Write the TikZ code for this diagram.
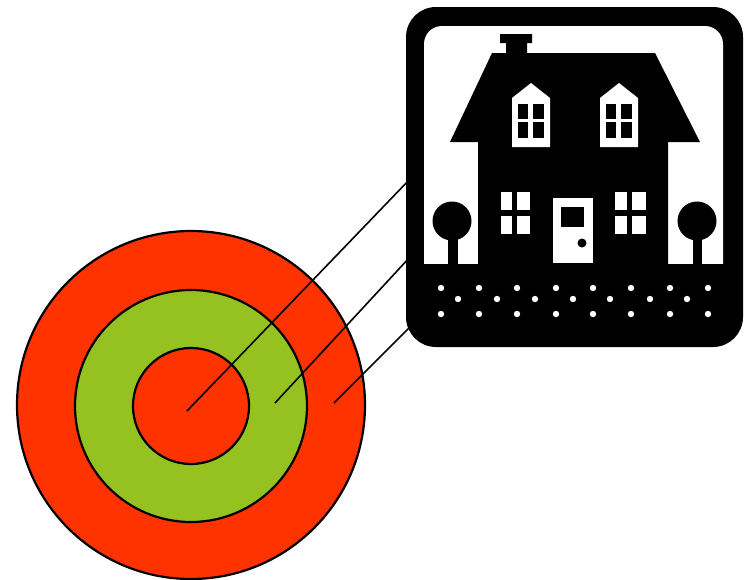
\documentclass[tikz,border=0pt]{standalone}
\definecolor{tred}{HTML}{FF3300}
\definecolor{tgreen}{HTML}{95C121}
\tikzset{
  ring/.style={circle,draw=black,line width=2.2pt,inner sep=0pt,minimum size=#1},
  link/.style={draw=black,line width=1.6pt},
  ink/.style={fill=black,draw=none},
  paper/.style={fill=white,draw=none}
}
\begin{document}
\begin{tikzpicture}[x=1pt,y=-1pt]
\useasboundingbox (0,0) rectangle (744,579);
% target
\node[ring=348pt,fill=tred] (outer) at (191,405) {};
\node[ring=232pt,fill=tgreen] (middle) at (191,406) {};
\node[ring=116pt,fill=tred] (inner) at (191,406) {};
% connector ends
\coordinate (c1) at (187,411);
\coordinate (c2) at (275,403);
\coordinate (c3) at (334,403);
\coordinate (h1) at (410,179);
\coordinate (h2) at (410,257);
\coordinate (h3) at (412,325);
\draw[link] (c1) -- (h1);
\draw[link] (c2) -- (h2);
\draw[link] (c3) -- (h3);
% sign
\fill[ink,rounded corners=30pt] (406,7) rectangle (743,347);
\fill[paper,rounded corners=18pt] (424,26) rectangle (723,290);
\fill[ink] (420,264) rectangle (727,300);
% house
\fill[ink] (500,34) -- (532,34) -- (532,43) -- (527,43) -- (527,53) -- (655,53) -- (700,142) -- (668,142) -- (668,266) -- (478,266) -- (478,142) -- (450,142) -- (492,53) -- (506,53) -- (506,43) -- (500,43) -- cycle;
% dormers
\foreach \x in {512,600}{
  \fill[paper] (\x,98) -- (\x+19,83) -- (\x+38,98) -- (\x+38,147) -- (\x,147) -- cycle;
  \fill[ink] (\x+6,104) rectangle (\x+16,119);
  \fill[ink] (\x+21,104) rectangle (\x+32,119);
  \fill[ink] (\x+6,122) rectangle (\x+16,138);
  \fill[ink] (\x+21,122) rectangle (\x+32,138);
}
% lower windows
\fill[paper] (501,192) rectangle (530,234);
\fill[ink] (512,192) rectangle (517,234);
\fill[ink] (501,210) rectangle (530,216);
\fill[paper] (615,192) rectangle (646,234);
\fill[ink] (627,192) rectangle (632,234);
\fill[ink] (615,210) rectangle (646,216);
% door
\fill[paper] (553,198) rectangle (593,263);
\fill[ink] (561,207) rectangle (584,227);
\fill[ink] (582,243) circle (4.5);
% trees
\fill[ink] (452,221) circle (19.5);
\fill[ink] (448,235) rectangle (458,266);
\fill[ink] (697,221) circle (19.5);
\fill[ink] (693,235) rectangle (702,266);
% dots
\foreach \x in {441,479,517,556,593,631,670,708}{
  \fill[paper] (\x,288) circle (3.2);
  \fill[paper] (\x,314) circle (3.2);
}
\foreach \x in {458,497,535,573,610,650,687}{
  \fill[paper] (\x,299) circle (3.2);
}
\end{tikzpicture}
\end{document}
